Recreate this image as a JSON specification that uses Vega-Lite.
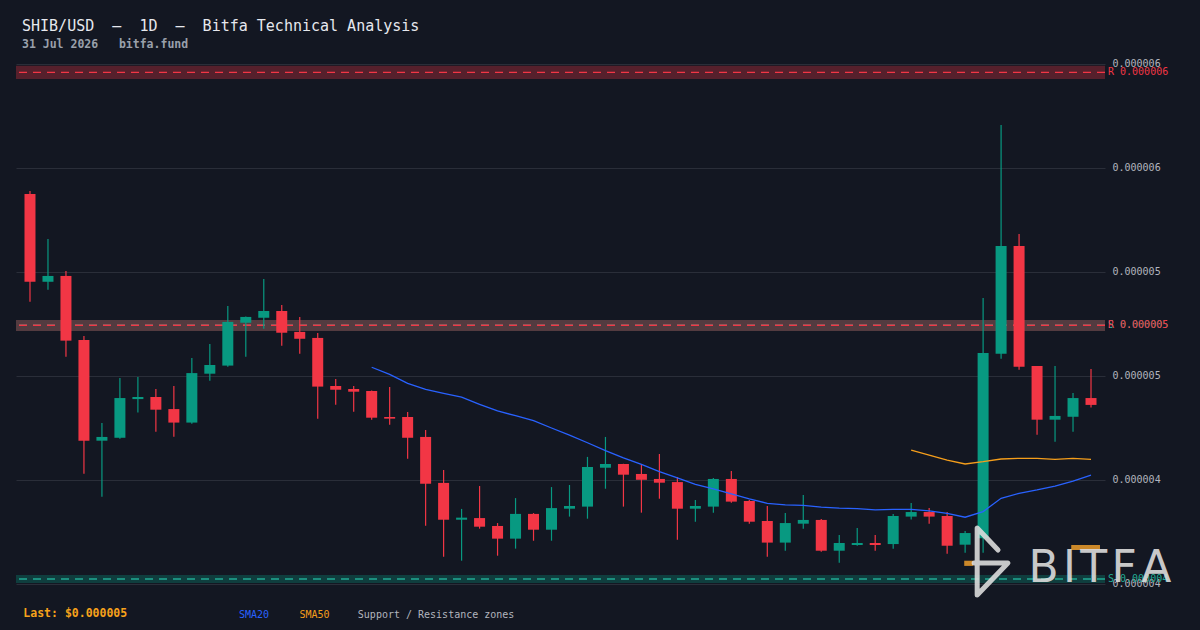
{
  "$schema": "https://vega.github.io/schema/vega-lite/v6.json",
  "autosize": {"type": "none"},
  "width": 1089,
  "height": 534,
  "padding": {"left": 16, "top": 56, "right": 95, "bottom": 40},
  "background": "#131722",
  "title": {
    "text": "SHIB/USD\u00a0\u00a0–\u00a0\u00a01D\u00a0\u00a0–\u00a0\u00a0Bitfa Technical Analysis",
    "subtitle": "31 Jul 2026\u00a0\u00a0\u00a0bitfa.fund",
    "anchor": "start",
    "frame": "group",
    "dx": 6,
    "offset": 6,
    "font": "DejaVu Sans Mono",
    "fontSize": 15,
    "fontWeight": "normal",
    "color": "#e6e8ee",
    "subtitleFont": "DejaVu Sans Mono",
    "subtitleFontSize": 11.5,
    "subtitleFontWeight": "bold",
    "subtitleColor": "#9aa0ab",
    "subtitlePadding": 5
  },
  "config": {
    "view": {"stroke": null},
    "axisY": {
      "grid": true,
      "gridColor": "#2a2e39",
      "gridWidth": 1,
      "ticks": false,
      "domain": false,
      "labelColor": "#b2b5be",
      "labelFont": "DejaVu Sans Mono",
      "labelFontSize": 10,
      "labelPadding": 7
    }
  },
  "datasets": {
    "candles": [
      {"i": 0, "o": 5.375e-6, "h": 5.389e-6, "l": 4.857e-6, "c": 4.953e-6},
      {"i": 1, "o": 4.953e-6, "h": 5.159e-6, "l": 4.915e-6, "c": 4.981e-6},
      {"i": 2, "o": 4.981e-6, "h": 5.005e-6, "l": 4.593e-6, "c": 4.670e-6},
      {"i": 3, "o": 4.673e-6, "h": 4.692e-6, "l": 4.030e-6, "c": 4.189e-6},
      {"i": 4, "o": 4.189e-6, "h": 4.274e-6, "l": 3.920e-6, "c": 4.207e-6},
      {"i": 5, "o": 4.203e-6, "h": 4.490e-6, "l": 4.198e-6, "c": 4.394e-6},
      {"i": 6, "o": 4.389e-6, "h": 4.495e-6, "l": 4.324e-6, "c": 4.399e-6},
      {"i": 7, "o": 4.399e-6, "h": 4.4375e-6, "l": 4.232e-6, "c": 4.338e-6},
      {"i": 8, "o": 4.341e-6, "h": 4.452e-6, "l": 4.208e-6, "c": 4.276e-6},
      {"i": 9, "o": 4.276e-6, "h": 4.587e-6, "l": 4.271e-6, "c": 4.514e-6},
      {"i": 10, "o": 4.511e-6, "h": 4.654e-6, "l": 4.477e-6, "c": 4.553e-6},
      {"i": 11, "o": 4.550e-6, "h": 4.837e-6, "l": 4.545e-6, "c": 4.760e-6},
      {"i": 12, "o": 4.756e-6, "h": 4.786e-6, "l": 4.593e-6, "c": 4.784e-6},
      {"i": 13, "o": 4.780e-6, "h": 4.966e-6, "l": 4.727e-6, "c": 4.8125e-6},
      {"i": 14, "o": 4.8125e-6, "h": 4.841e-6, "l": 4.646e-6, "c": 4.708e-6},
      {"i": 15, "o": 4.712e-6, "h": 4.784e-6, "l": 4.607e-6, "c": 4.679e-6},
      {"i": 16, "o": 4.683e-6, "h": 4.707e-6, "l": 4.295e-6, "c": 4.449e-6},
      {"i": 17, "o": 4.452e-6, "h": 4.486e-6, "l": 4.362e-6, "c": 4.434e-6},
      {"i": 18, "o": 4.4375e-6, "h": 4.452e-6, "l": 4.328e-6, "c": 4.4245e-6},
      {"i": 19, "o": 4.428e-6, "h": 4.430e-6, "l": 4.290e-6, "c": 4.2995e-6},
      {"i": 20, "o": 4.303e-6, "h": 4.447e-6, "l": 4.266e-6, "c": 4.295e-6},
      {"i": 21, "o": 4.303e-6, "h": 4.327e-6, "l": 4.102e-6, "c": 4.203e-6},
      {"i": 22, "o": 4.207e-6, "h": 4.240e-6, "l": 3.780e-6, "c": 3.982e-6},
      {"i": 23, "o": 3.986e-6, "h": 4.048e-6, "l": 3.631e-6, "c": 3.809e-6},
      {"i": 24, "o": 3.809e-6, "h": 3.861e-6, "l": 3.612e-6, "c": 3.819e-6},
      {"i": 25, "o": 3.817e-6, "h": 3.971e-6, "l": 3.766e-6, "c": 3.7755e-6},
      {"i": 26, "o": 3.779e-6, "h": 3.793e-6, "l": 3.636e-6, "c": 3.718e-6},
      {"i": 27, "o": 3.718e-6, "h": 3.913e-6, "l": 3.670e-6, "c": 3.837e-6},
      {"i": 28, "o": 3.837e-6, "h": 3.841e-6, "l": 3.708e-6, "c": 3.761e-6},
      {"i": 29, "o": 3.761e-6, "h": 3.966e-6, "l": 3.708e-6, "c": 3.865e-6},
      {"i": 30, "o": 3.862e-6, "h": 3.976e-6, "l": 3.824e-6, "c": 3.875e-6},
      {"i": 31, "o": 3.872e-6, "h": 4.111e-6, "l": 3.814e-6, "c": 4.0625e-6},
      {"i": 32, "o": 4.059e-6, "h": 4.207e-6, "l": 3.958e-6, "c": 4.077e-6},
      {"i": 33, "o": 4.077e-6, "h": 4.078e-6, "l": 3.872e-6, "c": 4.0255e-6},
      {"i": 34, "o": 4.029e-6, "h": 4.077e-6, "l": 3.843e-6, "c": 4.001e-6},
      {"i": 35, "o": 4.005e-6, "h": 4.125e-6, "l": 3.910e-6, "c": 3.987e-6},
      {"i": 36, "o": 3.990e-6, "h": 4.014e-6, "l": 3.713e-6, "c": 3.862e-6},
      {"i": 37, "o": 3.862e-6, "h": 3.904e-6, "l": 3.7995e-6, "c": 3.875e-6},
      {"i": 38, "o": 3.872e-6, "h": 4.010e-6, "l": 3.843e-6, "c": 4.005e-6},
      {"i": 39, "o": 4.005e-6, "h": 4.043e-6, "l": 3.891e-6, "c": 3.896e-6},
      {"i": 40, "o": 3.899e-6, "h": 3.904e-6, "l": 3.790e-6, "c": 3.7995e-6},
      {"i": 41, "o": 3.803e-6, "h": 3.875e-6, "l": 3.631e-6, "c": 3.699e-6},
      {"i": 42, "o": 3.699e-6, "h": 3.841e-6, "l": 3.660e-6, "c": 3.793e-6},
      {"i": 43, "o": 3.790e-6, "h": 3.928e-6, "l": 3.766e-6, "c": 3.808e-6},
      {"i": 44, "o": 3.808e-6, "h": 3.8125e-6, "l": 3.655e-6, "c": 3.660e-6},
      {"i": 45, "o": 3.660e-6, "h": 3.736e-6, "l": 3.602e-6, "c": 3.697e-6},
      {"i": 46, "o": 3.6875e-6, "h": 3.769e-6, "l": 3.684e-6, "c": 3.697e-6},
      {"i": 47, "o": 3.697e-6, "h": 3.736e-6, "l": 3.660e-6, "c": 3.6875e-6},
      {"i": 48, "o": 3.692e-6, "h": 3.8365e-6, "l": 3.670e-6, "c": 3.827e-6},
      {"i": 49, "o": 3.824e-6, "h": 3.889e-6, "l": 3.8095e-6, "c": 3.846e-6},
      {"i": 50, "o": 3.846e-6, "h": 3.865e-6, "l": 3.790e-6, "c": 3.824e-6},
      {"i": 51, "o": 3.827e-6, "h": 3.846e-6, "l": 3.646e-6, "c": 3.684e-6},
      {"i": 52, "o": 3.689e-6, "h": 3.755e-6, "l": 3.650e-6, "c": 3.745e-6},
      {"i": 53, "o": 3.720e-6, "h": 4.875e-6, "l": 3.650e-6, "c": 4.611e-6},
      {"i": 54, "o": 4.607e-6, "h": 5.707e-6, "l": 4.583e-6, "c": 5.125e-6},
      {"i": 55, "o": 5.125e-6, "h": 5.183e-6, "l": 4.530e-6, "c": 4.545e-6},
      {"i": 56, "o": 4.548e-6, "h": 4.548e-6, "l": 4.218e-6, "c": 4.290e-6},
      {"i": 57, "o": 4.290e-6, "h": 4.548e-6, "l": 4.184e-6, "c": 4.308e-6},
      {"i": 58, "o": 4.304e-6, "h": 4.418e-6, "l": 4.232e-6, "c": 4.394e-6},
      {"i": 59, "o": 4.394e-6, "h": 4.534e-6, "l": 4.348e-6, "c": 4.361e-6}
    ],
    "sma": [
      {"i": 19, "s": "SMA20", "v": 4.542e-6},
      {"i": 20, "s": "SMA20", "v": 4.508e-6},
      {"i": 21, "s": "SMA20", "v": 4.465e-6},
      {"i": 22, "s": "SMA20", "v": 4.436e-6},
      {"i": 23, "s": "SMA20", "v": 4.417e-6},
      {"i": 24, "s": "SMA20", "v": 4.398e-6},
      {"i": 25, "s": "SMA20", "v": 4.364e-6},
      {"i": 26, "s": "SMA20", "v": 4.332e-6},
      {"i": 27, "s": "SMA20", "v": 4.309e-6},
      {"i": 28, "s": "SMA20", "v": 4.285e-6},
      {"i": 29, "s": "SMA20", "v": 4.250e-6},
      {"i": 30, "s": "SMA20", "v": 4.216e-6},
      {"i": 31, "s": "SMA20", "v": 4.179e-6},
      {"i": 32, "s": "SMA20", "v": 4.141e-6},
      {"i": 33, "s": "SMA20", "v": 4.106e-6},
      {"i": 34, "s": "SMA20", "v": 4.0755e-6},
      {"i": 35, "s": "SMA20", "v": 4.040e-6},
      {"i": 36, "s": "SMA20", "v": 4.010e-6},
      {"i": 37, "s": "SMA20", "v": 3.979e-6},
      {"i": 38, "s": "SMA20", "v": 3.957e-6},
      {"i": 39, "s": "SMA20", "v": 3.933e-6},
      {"i": 40, "s": "SMA20", "v": 3.909e-6},
      {"i": 41, "s": "SMA20", "v": 3.888e-6},
      {"i": 42, "s": "SMA20", "v": 3.880e-6},
      {"i": 43, "s": "SMA20", "v": 3.878e-6},
      {"i": 44, "s": "SMA20", "v": 3.870e-6},
      {"i": 45, "s": "SMA20", "v": 3.865e-6},
      {"i": 46, "s": "SMA20", "v": 3.862e-6},
      {"i": 47, "s": "SMA20", "v": 3.856e-6},
      {"i": 48, "s": "SMA20", "v": 3.859e-6},
      {"i": 49, "s": "SMA20", "v": 3.859e-6},
      {"i": 50, "s": "SMA20", "v": 3.852e-6},
      {"i": 51, "s": "SMA20", "v": 3.840e-6},
      {"i": 52, "s": "SMA20", "v": 3.821e-6},
      {"i": 53, "s": "SMA20", "v": 3.848e-6},
      {"i": 54, "s": "SMA20", "v": 3.912e-6},
      {"i": 55, "s": "SMA20", "v": 3.936e-6},
      {"i": 56, "s": "SMA20", "v": 3.952e-6},
      {"i": 57, "s": "SMA20", "v": 3.971e-6},
      {"i": 58, "s": "SMA20", "v": 3.995e-6},
      {"i": 59, "s": "SMA20", "v": 4.023e-6},
      {"i": 49, "s": "SMA50", "v": 4.144e-6},
      {"i": 50, "s": "SMA50", "v": 4.120e-6},
      {"i": 51, "s": "SMA50", "v": 4.096e-6},
      {"i": 52, "s": "SMA50", "v": 4.077e-6},
      {"i": 53, "s": "SMA50", "v": 4.088e-6},
      {"i": 54, "s": "SMA50", "v": 4.101e-6},
      {"i": 55, "s": "SMA50", "v": 4.104e-6},
      {"i": 56, "s": "SMA50", "v": 4.104e-6},
      {"i": 57, "s": "SMA50", "v": 4.099e-6},
      {"i": 58, "s": "SMA50", "v": 4.104e-6},
      {"i": 59, "s": "SMA50", "v": 4.099e-6}
    ],
    "zones": [
      {"kind": "S", "lo": 4.716e-6, "hi": 4.769e-6, "level": 4.744e-6, "label": "S 0.000005"},
      {"kind": "S", "lo": 3.505e-6, "hi": 3.543e-6, "level": 3.524e-6, "label": "S 0.000004"},
      {"kind": "R", "lo": 5.928e-6, "hi": 5.992e-6, "level": 5.960e-6, "label": "R 0.000006"},
      {"kind": "R", "lo": 4.716e-6, "hi": 4.769e-6, "level": 4.744e-6, "label": "R 0.000005"}
    ],
    "logo": [
      {"k": 1, "x": 53.83, "y": 3.6635e-6},
      {"k": 2, "x": 52.67, "y": 3.769e-6},
      {"k": 3, "x": 52.67, "y": 3.447e-6},
      {"k": 4, "x": 54.38, "y": 3.601e-6},
      {"k": 5, "x": 52.50, "y": 3.601e-6}
    ],
    "bars": [
      {"x": 57.9, "x2": 59.5, "y": 3.6875e-6, "y2": 3.6635e-6},
      {"x": 51.95, "x2": 52.45, "y": 3.612e-6, "y2": 3.587e-6}
    ],
    "legend": [
      {"x": 11.62, "y": 3.351e-6, "t": "SMA20", "col": "sma20"},
      {"x": 14.98, "y": 3.351e-6, "t": "SMA50", "col": "sma50"},
      {"x": 18.23, "y": 3.351e-6, "t": "Support / Resistance zones", "col": "zones"}
    ]
  },
  "layer": [
    {
      "data": {"name": "zones"},
      "mark": {"type": "rect", "opacity": 0.3},
      "encoding": {
        "y": {
          "field": "lo",
          "type": "quantitative",
          "scale": {"domain": [3.47115e-6, 6.03846e-6], "nice": false, "zero": false},
          "axis": {
            "title": null,
            "values": [3.5e-6, 4.0e-6, 4.5e-6, 5.0e-6, 5.5e-6, 6.0e-6],
            "labelExpr": "format(datum.value + 1e-12, '.6f')",
            "orient": "right"
          }
        },
        "y2": {"field": "hi"},
        "color": {"condition": {"test": "datum.kind === 'R'", "value": "#f23645"}, "value": "#089981"}
      }
    },
    {
      "data": {"name": "zones"},
      "mark": {"type": "rule", "strokeDash": [8, 6], "strokeWidth": 1.3},
      "encoding": {
        "y": {"field": "level", "type": "quantitative"},
        "color": {"condition": {"test": "datum.kind === 'R'", "value": "#f23645"}, "value": "#22ab94"}
      }
    },
    {
      "data": {"name": "candles"},
      "mark": {"type": "rule", "strokeWidth": 1.2},
      "encoding": {
        "x": {
          "field": "i",
          "type": "quantitative",
          "scale": {"domain": [-0.5, 59.5], "nice": false, "zero": false},
          "axis": null
        },
        "y": {"field": "l", "type": "quantitative"},
        "y2": {"field": "h"},
        "color": {"condition": {"test": "datum.c >= datum.o", "value": "#089981"}, "value": "#f23645"}
      }
    },
    {
      "data": {"name": "candles"},
      "mark": {"type": "bar", "size": 11},
      "encoding": {
        "x": {"field": "i", "type": "quantitative"},
        "y": {"field": "o", "type": "quantitative"},
        "y2": {"field": "c"},
        "color": {"condition": {"test": "datum.c >= datum.o", "value": "#089981"}, "value": "#f23645"}
      }
    },
    {
      "data": {"name": "zones"},
      "mark": {"type": "text", "align": "left", "baseline": "middle", "dx": 8, "font": "DejaVu Sans Mono", "fontSize": 10},
      "encoding": {
        "x": {"datum": 59.5, "type": "quantitative"},
        "y": {"field": "level", "type": "quantitative"},
        "text": {"field": "label"},
        "color": {"condition": {"test": "datum.kind === 'R'", "value": "#f23645"}, "value": "#22ab94"}
      }
    },
    {
      "data": {"name": "sma"},
      "mark": {"type": "line", "strokeWidth": 1.3},
      "encoding": {
        "x": {"field": "i", "type": "quantitative"},
        "y": {"field": "v", "type": "quantitative"},
        "detail": {"field": "s", "type": "nominal"},
        "color": {"condition": {"test": "datum.s === 'SMA20'", "value": "#2962ff"}, "value": "#f59e1b"}
      }
    },
    {
      "data": {"name": "bars"},
      "mark": {"type": "rect", "color": "#e0952a", "opacity": 0.9},
      "encoding": {
        "x": {"field": "x", "type": "quantitative"},
        "x2": {"field": "x2"},
        "y": {"field": "y", "type": "quantitative"},
        "y2": {"field": "y2"}
      }
    },
    {
      "data": {"name": "logo"},
      "mark": {"type": "line", "color": "#dcdcdc", "opacity": 0.9, "strokeWidth": 5, "strokeCap": "round", "strokeJoin": "round"},
      "encoding": {
        "x": {"field": "x", "type": "quantitative"},
        "y": {"field": "y", "type": "quantitative"},
        "order": {"field": "k", "type": "quantitative"}
      }
    },
    {
      "data": {"values": [{"x": 55.52, "y": 3.5096e-6, "t": "B\u200aI\u200aT\u200aF\u200aA"}]},
      "mark": {"type": "text", "align": "left", "baseline": "alphabetic", "font": "DejaVu Sans", "fontSize": 44, "color": "#dcdcdc", "opacity": 0.9},
      "encoding": {
        "x": {"field": "x", "type": "quantitative"},
        "y": {"field": "y", "type": "quantitative"},
        "text": {"field": "t"}
      }
    },
    {
      "data": {"values": [{"x": -0.37, "y": 3.355e-6, "t": "Last: $0.000005"}]},
      "mark": {"type": "text", "align": "left", "baseline": "middle", "font": "DejaVu Sans Mono", "fontSize": 11.5, "fontWeight": "bold", "color": "#f7a21b"},
      "encoding": {
        "x": {"field": "x", "type": "quantitative"},
        "y": {"field": "y", "type": "quantitative"},
        "text": {"field": "t"}
      }
    },
    {
      "data": {"name": "legend"},
      "mark": {"type": "text", "align": "left", "baseline": "middle", "font": "DejaVu Sans Mono", "fontSize": 10},
      "encoding": {
        "x": {"field": "x", "type": "quantitative"},
        "y": {"field": "y", "type": "quantitative"},
        "text": {"field": "t"},
        "color": {
          "condition": [
            {"test": "datum.col === 'sma20'", "value": "#2962ff"},
            {"test": "datum.col === 'sma50'", "value": "#f59e1b"}
          ],
          "value": "#b2b5be"
        }
      }
    }
  ]
}
